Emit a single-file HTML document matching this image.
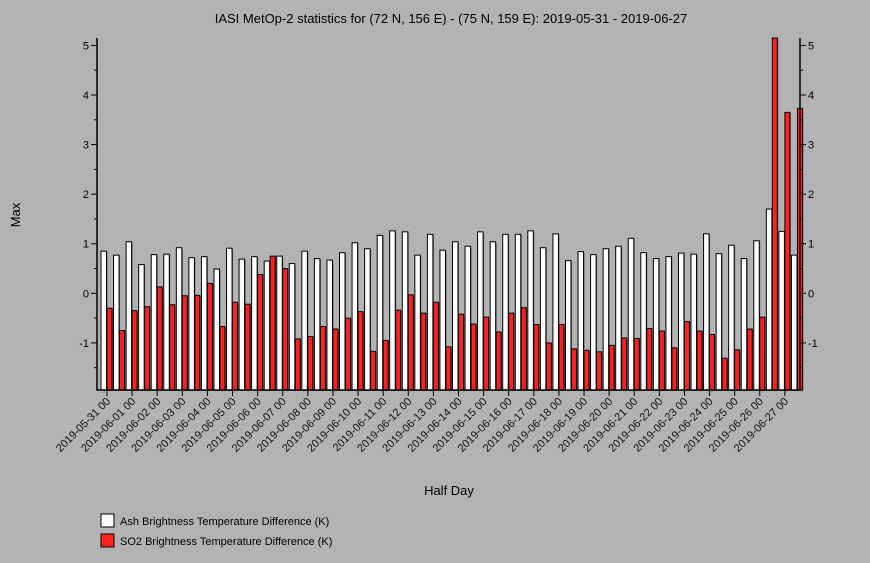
<!DOCTYPE html>
<html><head><meta charset="utf-8"><style>
body{margin:0;background:#b3b3b3;}
svg{display:block;font-family:"Liberation Sans",sans-serif;}
</style></head><body>
<svg id="chart" width="870" height="563" xmlns="http://www.w3.org/2000/svg">
<rect width="870" height="563" fill="#b3b3b3"/>
<text x="451" y="23" font-size="13" text-anchor="middle" fill="#000">IASI MetOp-2 statistics for (72 N, 156 E) - (75 N, 159 E): 2019-05-31 - 2019-06-27</text>
<text x="20" y="215" font-size="13" text-anchor="middle" transform="rotate(-90 20 215)">Max</text>
<text x="449" y="495" font-size="13" text-anchor="middle">Half Day</text>
<g id="bars"></g>
<g id="axes"></g>
<g>
<rect x="101" y="514" width="13" height="13" fill="#fff" stroke="#000"/>
<text x="120" y="525" font-size="11">Ash Brightness Temperature Difference (K)</text>
<rect x="101" y="534" width="13" height="13" fill="#f22" stroke="#000"/>
<text x="120" y="545" font-size="11">SO2 Brightness Temperature Difference (K)</text>
</g>
</svg>
<script>
const days = ["2019-05-31","2019-06-01","2019-06-02","2019-06-03","2019-06-04","2019-06-05","2019-06-06","2019-06-07","2019-06-08","2019-06-09","2019-06-10","2019-06-11","2019-06-12","2019-06-13","2019-06-14","2019-06-15","2019-06-16","2019-06-17","2019-06-18","2019-06-19","2019-06-20","2019-06-21","2019-06-22","2019-06-23","2019-06-24","2019-06-25","2019-06-26","2019-06-27"];
const ashValues = [0.85,0.77,1.04,0.58,0.78,0.79,0.92,0.72,0.74,0.49,0.91,0.69,0.74,0.65,0.75,0.60,0.85,0.70,0.67,0.82,1.02,0.90,1.17,1.26,1.24,0.77,1.19,0.87,1.04,0.95,1.24,1.04,1.19,1.19,1.26,0.92,1.20,0.66,0.84,0.78,0.90,0.95,1.11,0.82,0.70,0.74,0.81,0.79,1.20,0.80,0.97,0.70,1.06,1.70,1.25,0.77];
const so2Values = [-0.3,-0.75,-0.35,-0.27,0.13,-0.23,-0.05,-0.04,0.2,-0.67,-0.18,-0.22,0.38,0.75,0.5,-0.92,-0.87,-0.67,-0.72,-0.5,-0.37,-1.17,-0.95,-0.34,-0.03,-0.4,-0.18,-1.08,-0.42,-0.62,-0.48,-0.78,-0.4,-0.29,-0.63,-1.0,-0.63,-1.12,-1.15,-1.18,-1.05,-0.9,-0.91,-0.71,-0.76,-1.1,-0.57,-0.76,-0.83,-1.31,-1.14,-0.72,-0.48,5.2,3.65,3.73];
const yTicks = [-1,0,1,2,3,4,5];

const NS="http://www.w3.org/2000/svg";
const X0=97, X1=800, Y0=38, Y1=390, YMIN=-1.95, YMAX=5.15;
const slotW=(X1-X0)/ashValues.length;
function y(v){return Y1-(v-YMIN)/(YMAX-YMIN)*(Y1-Y0);}
function xs(i){return X0+i*slotW;}
function mk(tag,attrs,parent){const e=document.createElementNS(NS,tag);for(const k in attrs)e.setAttribute(k,attrs[k]);parent.appendChild(e);return e;}
const bars=document.getElementById('bars'), axes=document.getElementById('axes');
function bar(x,w,v,fill,name){
  const top=Math.max(Y0,Math.min(Y1,y(v)));
  const s=mk('rect',{x:x+1,y:top+1,width:w,height:Y1-top,fill:'#666'},bars);
  
  
  const r=mk('rect',{x:x,y:top,width:w,height:Y1-top,fill:fill,stroke:'#000','stroke-width':1},bars);
  
  
}
ashValues.forEach((v,i)=>bar(xs(i)+4,5.5,v,'#fff','bar-ash'));
so2Values.forEach((v,i)=>bar(xs(i)+10,5,v,'#f22','bar-so2'));
const frame=mk('path',{d:`M${X0} ${Y0}V${Y1}H${X1}V${Y0}`,stroke:'#000','stroke-width':1.5,fill:'none'},axes);


for(let t=-1.5;t<=5;t+=0.5){
  const major=Number.isInteger(t);
  const L=major?6:3;
  mk('line',{x1:X0-L,x2:X0,y1:y(t),y2:y(t),stroke:'#000'},axes);
  mk('line',{x1:X1,x2:X1+L,y1:y(t),y2:y(t),stroke:'#000'},axes);
}
yTicks.forEach(t=>{
  const a=mk('text',{x:X0-8,y:y(t)+4,'font-size':11,'text-anchor':'end'},axes);
  a.textContent=t;
  
  
  const b=mk('text',{x:X1+8,y:y(t)+4,'font-size':11},axes);
  b.textContent=t;
  
  
});
days.forEach((d,i)=>{
  const tx=xs(2*i)+10;
  mk('line',{x1:tx,x2:tx,y1:Y1,y2:Y1+6,stroke:'#000'},axes);
  const t=mk('text',{x:tx+4,y:Y1+12,'font-size':11,'text-anchor':'end',transform:`rotate(-45 ${tx+4} ${Y1+12})`,fill:'#111'},axes);
  t.textContent=d+" 00";
  
  
});
</script>
</body></html>
